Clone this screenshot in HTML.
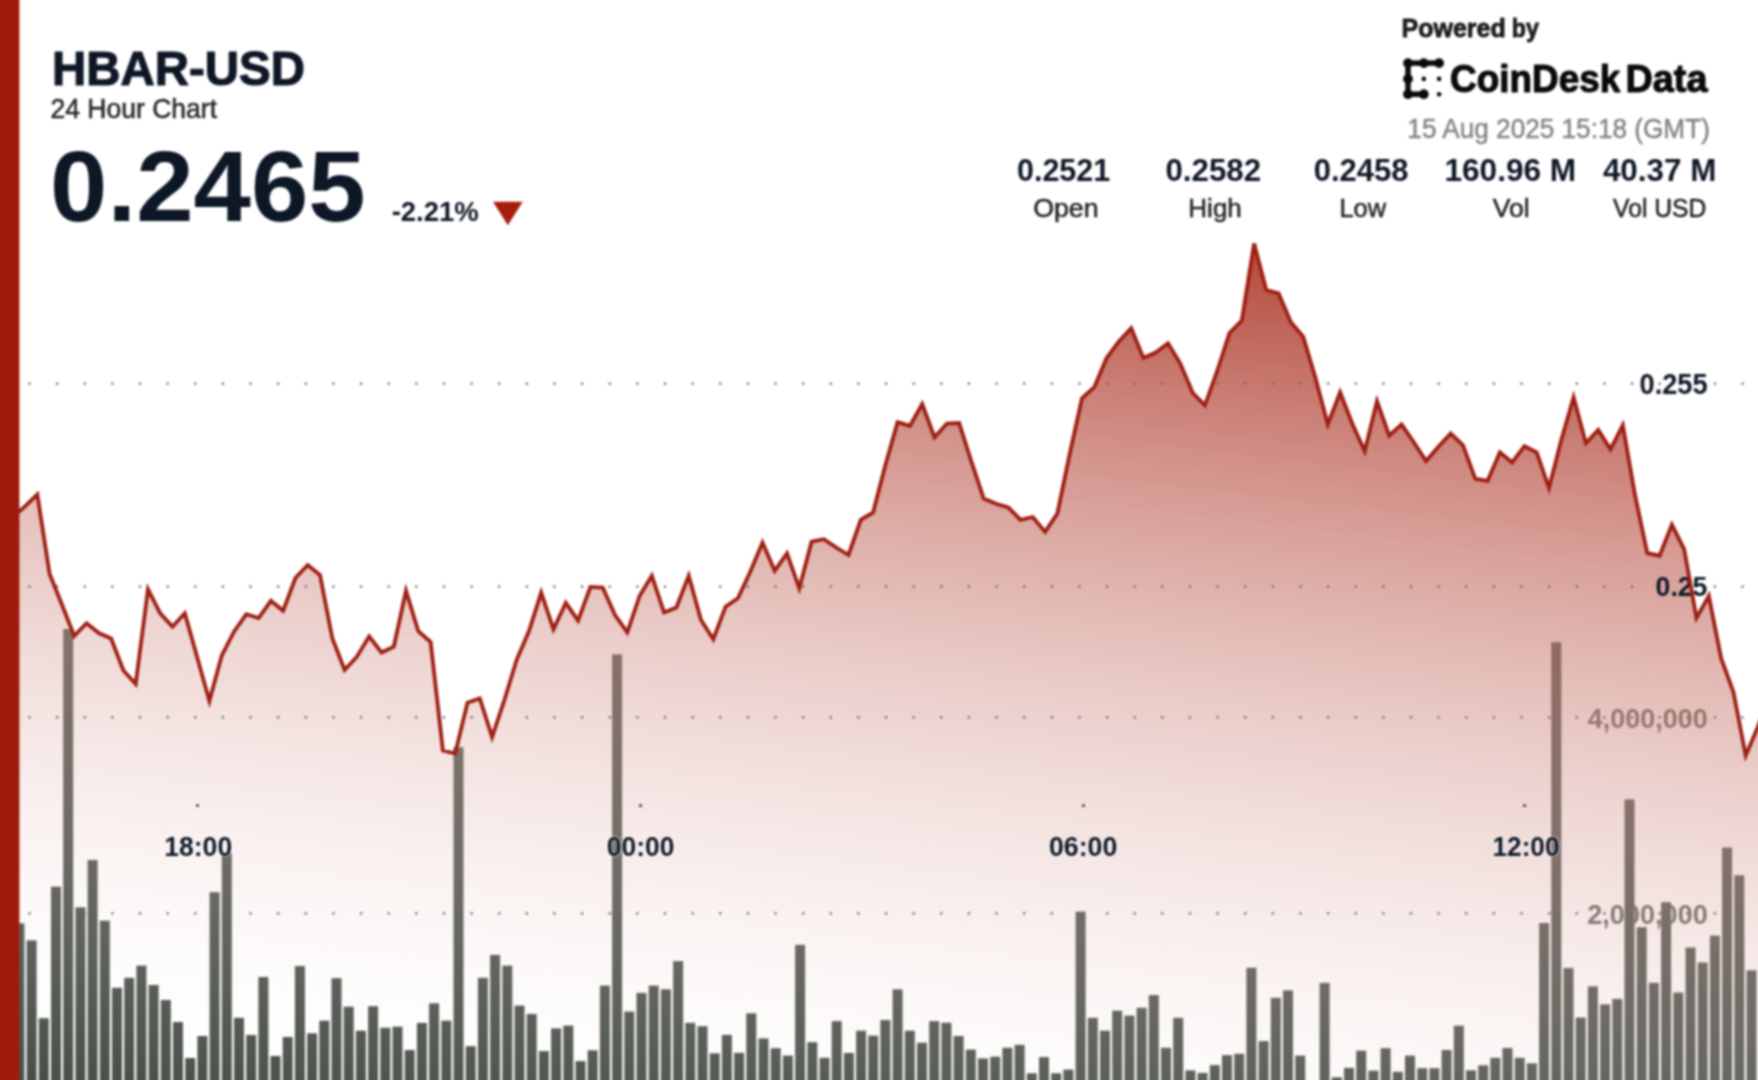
<!DOCTYPE html>
<html><head><meta charset="utf-8"><title>HBAR-USD 24 Hour Chart</title>
<style>
html,body{margin:0;padding:0;}
body{width:1758px;height:1080px;overflow:hidden;background:#fff;position:relative;}
svg{position:absolute;left:-10px;top:-10px;filter:blur(1px);}
text{font-family:"Liberation Sans", sans-serif;}
</style></head>
<body>
<svg width="1778" height="1100" viewBox="-10 -10 1778 1100">
<defs>
<linearGradient id="fg" gradientUnits="userSpaceOnUse" x1="880" y1="90.2" x2="750" y2="1173.5">
<stop offset="0" stop-color="#a31e0d" stop-opacity="1"/>
<stop offset="1" stop-color="#ffffff" stop-opacity="0"/>
</linearGradient>
</defs>
<text x="1587.79" y="727.73" font-size="27.26" font-weight="bold" textLength="120.01" lengthAdjust="spacingAndGlyphs" fill="#5a5f5a" >4,000,000</text>
<text x="1587.26" y="923.73" font-size="27.26" font-weight="bold" textLength="120.55" lengthAdjust="spacingAndGlyphs" fill="#5a5f5a" >2,000,000</text>
<g fill="#464e46">
<rect x="14.4" y="923.3" width="10.0" height="166.7"/>
<rect x="26.6" y="940.4" width="10.0" height="149.6"/>
<rect x="38.8" y="1018.2" width="10.0" height="71.8"/>
<rect x="51.0" y="886.7" width="10.0" height="203.3"/>
<rect x="63.2" y="629.0" width="10.0" height="461.0"/>
<rect x="75.4" y="907.3" width="10.0" height="182.7"/>
<rect x="87.6" y="860.0" width="10.0" height="230.0"/>
<rect x="99.8" y="920.7" width="10.0" height="169.3"/>
<rect x="112.0" y="987.8" width="10.0" height="102.2"/>
<rect x="124.2" y="977.8" width="10.0" height="112.2"/>
<rect x="136.4" y="965.6" width="10.0" height="124.4"/>
<rect x="148.6" y="985.0" width="10.0" height="105.0"/>
<rect x="160.8" y="1000.0" width="10.0" height="90.0"/>
<rect x="173.0" y="1022.0" width="10.0" height="68.0"/>
<rect x="185.2" y="1058.0" width="10.0" height="32.0"/>
<rect x="197.4" y="1036.0" width="10.0" height="54.0"/>
<rect x="209.6" y="892.2" width="10.0" height="197.8"/>
<rect x="221.8" y="853.0" width="10.0" height="237.0"/>
<rect x="234.0" y="1017.8" width="10.0" height="72.2"/>
<rect x="246.2" y="1035.0" width="10.0" height="55.0"/>
<rect x="258.4" y="977.0" width="10.0" height="113.0"/>
<rect x="270.5" y="1056.0" width="10.0" height="34.0"/>
<rect x="282.7" y="1037.0" width="10.0" height="53.0"/>
<rect x="294.9" y="966.0" width="10.0" height="124.0"/>
<rect x="307.1" y="1033.3" width="10.0" height="56.7"/>
<rect x="319.3" y="1020.7" width="10.0" height="69.3"/>
<rect x="331.5" y="978.2" width="10.0" height="111.8"/>
<rect x="343.7" y="1006.7" width="10.0" height="83.3"/>
<rect x="355.9" y="1030.7" width="10.0" height="59.3"/>
<rect x="368.1" y="1006.2" width="10.0" height="83.8"/>
<rect x="380.3" y="1027.8" width="10.0" height="62.2"/>
<rect x="392.5" y="1026.7" width="10.0" height="63.3"/>
<rect x="404.7" y="1050.0" width="10.0" height="40.0"/>
<rect x="416.9" y="1022.9" width="10.0" height="67.1"/>
<rect x="429.1" y="1003.3" width="10.0" height="86.7"/>
<rect x="441.3" y="1020.7" width="10.0" height="69.3"/>
<rect x="453.5" y="747.2" width="10.0" height="342.8"/>
<rect x="465.7" y="1046.2" width="10.0" height="43.8"/>
<rect x="477.9" y="977.8" width="10.0" height="112.2"/>
<rect x="490.1" y="954.9" width="10.0" height="135.1"/>
<rect x="502.3" y="965.6" width="10.0" height="124.4"/>
<rect x="514.5" y="1005.6" width="10.0" height="84.4"/>
<rect x="526.7" y="1014.0" width="10.0" height="76.0"/>
<rect x="538.9" y="1051.1" width="10.0" height="38.9"/>
<rect x="551.1" y="1028.4" width="10.0" height="61.6"/>
<rect x="563.3" y="1025.6" width="10.0" height="64.4"/>
<rect x="575.5" y="1061.1" width="10.0" height="28.9"/>
<rect x="587.7" y="1050.3" width="10.0" height="39.7"/>
<rect x="599.9" y="985.6" width="10.0" height="104.4"/>
<rect x="612.1" y="654.4" width="10.0" height="435.6"/>
<rect x="624.3" y="1011.6" width="10.0" height="78.4"/>
<rect x="636.5" y="992.9" width="10.0" height="97.1"/>
<rect x="648.7" y="985.6" width="10.0" height="104.4"/>
<rect x="660.9" y="989.3" width="10.0" height="100.7"/>
<rect x="673.1" y="961.1" width="10.0" height="128.9"/>
<rect x="685.3" y="1022.9" width="10.0" height="67.1"/>
<rect x="697.5" y="1026.2" width="10.0" height="63.8"/>
<rect x="709.7" y="1053.3" width="10.0" height="36.7"/>
<rect x="721.9" y="1034.9" width="10.0" height="55.1"/>
<rect x="734.1" y="1052.9" width="10.0" height="37.1"/>
<rect x="746.3" y="1013.3" width="10.0" height="76.7"/>
<rect x="758.5" y="1038.4" width="10.0" height="51.6"/>
<rect x="770.7" y="1048.2" width="10.0" height="41.8"/>
<rect x="782.9" y="1055.6" width="10.0" height="34.4"/>
<rect x="795.1" y="944.9" width="10.0" height="145.1"/>
<rect x="807.3" y="1042.2" width="10.0" height="47.8"/>
<rect x="819.5" y="1057.8" width="10.0" height="32.2"/>
<rect x="831.7" y="1021.1" width="10.0" height="68.9"/>
<rect x="843.9" y="1052.9" width="10.0" height="37.1"/>
<rect x="856.1" y="1030.7" width="10.0" height="59.3"/>
<rect x="868.2" y="1035.6" width="10.0" height="54.4"/>
<rect x="880.4" y="1020.0" width="10.0" height="70.0"/>
<rect x="892.6" y="989.3" width="10.0" height="100.7"/>
<rect x="904.8" y="1030.7" width="10.0" height="59.3"/>
<rect x="917.0" y="1042.7" width="10.0" height="47.3"/>
<rect x="929.2" y="1021.1" width="10.0" height="68.9"/>
<rect x="941.4" y="1022.7" width="10.0" height="67.3"/>
<rect x="953.6" y="1036.0" width="10.0" height="54.0"/>
<rect x="965.8" y="1049.6" width="10.0" height="40.4"/>
<rect x="978.0" y="1058.4" width="10.0" height="31.6"/>
<rect x="990.2" y="1056.7" width="10.0" height="33.3"/>
<rect x="1002.4" y="1047.8" width="10.0" height="42.2"/>
<rect x="1014.6" y="1044.9" width="10.0" height="45.1"/>
<rect x="1026.8" y="1073.3" width="10.0" height="16.7"/>
<rect x="1039.0" y="1057.1" width="10.0" height="32.9"/>
<rect x="1051.2" y="1073.3" width="10.0" height="16.7"/>
<rect x="1063.4" y="1069.6" width="10.0" height="20.4"/>
<rect x="1075.6" y="911.6" width="10.0" height="178.4"/>
<rect x="1087.8" y="1017.8" width="10.0" height="72.2"/>
<rect x="1100.0" y="1030.7" width="10.0" height="59.3"/>
<rect x="1112.2" y="1010.7" width="10.0" height="79.3"/>
<rect x="1124.4" y="1015.6" width="10.0" height="74.4"/>
<rect x="1136.6" y="1007.8" width="10.0" height="82.2"/>
<rect x="1148.8" y="995.1" width="10.0" height="94.9"/>
<rect x="1161.0" y="1047.8" width="10.0" height="42.2"/>
<rect x="1173.2" y="1017.8" width="10.0" height="72.2"/>
<rect x="1185.4" y="1070.4" width="10.0" height="19.6"/>
<rect x="1197.6" y="1072.9" width="10.0" height="17.1"/>
<rect x="1209.8" y="1065.1" width="10.0" height="24.9"/>
<rect x="1222.0" y="1055.1" width="10.0" height="34.9"/>
<rect x="1234.2" y="1053.8" width="10.0" height="36.2"/>
<rect x="1246.4" y="967.8" width="10.0" height="122.2"/>
<rect x="1258.6" y="1041.1" width="10.0" height="48.9"/>
<rect x="1270.8" y="997.8" width="10.0" height="92.2"/>
<rect x="1283.0" y="990.4" width="10.0" height="99.6"/>
<rect x="1295.2" y="1055.6" width="10.0" height="34.4"/>
<rect x="1319.6" y="982.9" width="10.0" height="107.1"/>
<rect x="1331.8" y="1077.3" width="10.0" height="12.7"/>
<rect x="1344.0" y="1067.8" width="10.0" height="22.2"/>
<rect x="1356.2" y="1050.7" width="10.0" height="39.3"/>
<rect x="1368.4" y="1070.7" width="10.0" height="19.3"/>
<rect x="1380.6" y="1048.2" width="10.0" height="41.8"/>
<rect x="1392.8" y="1071.8" width="10.0" height="18.2"/>
<rect x="1405.0" y="1055.6" width="10.0" height="34.4"/>
<rect x="1417.2" y="1068.2" width="10.0" height="21.8"/>
<rect x="1429.4" y="1068.2" width="10.0" height="21.8"/>
<rect x="1441.6" y="1050.0" width="10.0" height="40.0"/>
<rect x="1453.8" y="1025.7" width="10.0" height="64.3"/>
<rect x="1466.0" y="1070.3" width="10.0" height="19.7"/>
<rect x="1478.2" y="1065.3" width="10.0" height="24.7"/>
<rect x="1490.3" y="1057.8" width="10.0" height="32.2"/>
<rect x="1502.5" y="1048.0" width="10.0" height="42.0"/>
<rect x="1514.7" y="1057.8" width="10.0" height="32.2"/>
<rect x="1526.9" y="1063.3" width="10.0" height="26.7"/>
<rect x="1539.1" y="923.0" width="10.0" height="167.0"/>
<rect x="1551.3" y="642.2" width="10.0" height="447.8"/>
<rect x="1563.5" y="968.0" width="10.0" height="122.0"/>
<rect x="1575.7" y="1017.5" width="10.0" height="72.5"/>
<rect x="1587.9" y="986.4" width="10.0" height="103.6"/>
<rect x="1600.1" y="1004.4" width="10.0" height="85.6"/>
<rect x="1612.3" y="998.9" width="10.0" height="91.1"/>
<rect x="1624.5" y="799.4" width="10.0" height="290.6"/>
<rect x="1636.7" y="927.2" width="10.0" height="162.8"/>
<rect x="1648.9" y="982.8" width="10.0" height="107.2"/>
<rect x="1661.1" y="902.2" width="10.0" height="187.8"/>
<rect x="1673.3" y="992.5" width="10.0" height="97.5"/>
<rect x="1685.5" y="947.5" width="10.0" height="142.5"/>
<rect x="1697.7" y="962.5" width="10.0" height="127.5"/>
<rect x="1709.9" y="935.6" width="10.0" height="154.4"/>
<rect x="1722.1" y="847.5" width="10.0" height="242.5"/>
<rect x="1734.3" y="875.3" width="10.0" height="214.7"/>
<rect x="1746.5" y="970.3" width="10.0" height="119.7"/>
</g>
<polygon points="12.8,517.0 25.1,506.4 37.3,494.4 49.6,574.0 61.9,604.5 74.2,636.0 86.5,623.3 98.8,633.0 111.1,638.5 123.4,670.5 135.7,684.0 148.0,589.3 160.2,613.3 172.5,626.7 184.8,613.3 197.1,657.0 209.4,701.1 221.7,655.7 234.0,631.7 246.3,614.2 258.6,618.0 270.9,600.8 283.1,610.8 295.4,578.0 307.7,565.0 320.0,575.0 332.3,638.3 344.6,670.0 356.9,656.7 369.2,636.3 381.5,652.5 393.8,646.7 406.0,590.8 418.3,631.3 430.6,642.0 442.9,750.5 455.2,753.5 467.5,702.6 479.8,698.5 492.1,737.2 504.4,700.0 516.7,659.8 528.9,631.3 541.2,592.6 553.5,629.3 565.8,602.8 578.1,620.7 590.4,586.9 602.7,587.5 615.0,615.0 627.3,632.3 639.6,596.0 651.8,575.8 664.1,612.5 676.4,607.5 688.7,575.8 701.0,620.0 713.3,639.2 725.6,606.7 737.9,598.3 750.2,572.0 762.5,542.5 774.7,570.8 787.0,553.3 799.3,588.3 811.6,541.7 823.9,539.2 836.2,547.5 848.5,555.0 860.8,519.8 873.1,512.4 885.4,465.0 897.6,422.2 909.9,425.9 922.2,404.1 934.5,437.4 946.8,423.5 959.1,423.0 971.4,461.7 983.7,498.5 996.0,503.7 1008.3,507.4 1020.5,519.8 1032.8,517.0 1045.1,531.9 1057.4,513.5 1069.7,454.0 1082.0,398.3 1094.3,387.2 1106.6,358.0 1118.9,341.4 1131.2,328.3 1143.4,358.0 1155.7,352.5 1168.0,343.3 1180.3,363.6 1192.6,392.8 1204.9,405.3 1217.2,371.0 1229.5,333.0 1241.8,320.6 1254.1,243.5 1266.3,290.0 1278.6,293.3 1290.9,322.2 1303.2,336.7 1315.5,378.0 1327.8,424.4 1340.1,392.2 1352.4,424.0 1364.7,451.1 1377.0,401.1 1389.2,435.6 1401.5,424.4 1413.8,442.2 1426.1,461.1 1438.4,446.7 1450.7,433.5 1463.0,445.4 1475.3,478.8 1487.6,480.8 1499.9,452.3 1512.1,462.5 1524.4,446.2 1536.7,452.3 1549.0,488.0 1561.3,440.0 1573.6,397.3 1585.9,443.2 1598.2,429.9 1610.5,449.3 1622.8,425.2 1635.0,495.0 1647.3,553.2 1659.6,555.7 1671.9,524.6 1684.2,549.3 1696.5,618.0 1708.8,596.0 1721.1,658.2 1733.4,692.0 1745.7,755.5 1757.9,727.0 1770.2,695.0 1770.2,1095 12.8,1095" fill="url(#fg)"/>
<g stroke="#6b6b6b" stroke-width="2.2" stroke-dasharray="2.2 25.43" fill="none">
<line x1="28.4" y1="383.6" x2="1758" y2="383.6"/>
<line x1="28.4" y1="586.7" x2="1758" y2="586.7"/>
<line x1="28.4" y1="717.3" x2="1758" y2="717.3"/>
<line x1="28.4" y1="913.3" x2="1758" y2="913.3"/>
</g>
<text x="1639.52" y="393.92" font-size="28.67" font-weight="bold" textLength="68.13" lengthAdjust="spacingAndGlyphs" fill="#0e1726" >0.255</text>
<text x="1655.55" y="595.54" font-size="27.12" font-weight="bold" textLength="51.90" lengthAdjust="spacingAndGlyphs" fill="#0e1726" >0.25</text>
<polyline points="12.8,517.0 25.1,506.4 37.3,494.4 49.6,574.0 61.9,604.5 74.2,636.0 86.5,623.3 98.8,633.0 111.1,638.5 123.4,670.5 135.7,684.0 148.0,589.3 160.2,613.3 172.5,626.7 184.8,613.3 197.1,657.0 209.4,701.1 221.7,655.7 234.0,631.7 246.3,614.2 258.6,618.0 270.9,600.8 283.1,610.8 295.4,578.0 307.7,565.0 320.0,575.0 332.3,638.3 344.6,670.0 356.9,656.7 369.2,636.3 381.5,652.5 393.8,646.7 406.0,590.8 418.3,631.3 430.6,642.0 442.9,750.5 455.2,753.5 467.5,702.6 479.8,698.5 492.1,737.2 504.4,700.0 516.7,659.8 528.9,631.3 541.2,592.6 553.5,629.3 565.8,602.8 578.1,620.7 590.4,586.9 602.7,587.5 615.0,615.0 627.3,632.3 639.6,596.0 651.8,575.8 664.1,612.5 676.4,607.5 688.7,575.8 701.0,620.0 713.3,639.2 725.6,606.7 737.9,598.3 750.2,572.0 762.5,542.5 774.7,570.8 787.0,553.3 799.3,588.3 811.6,541.7 823.9,539.2 836.2,547.5 848.5,555.0 860.8,519.8 873.1,512.4 885.4,465.0 897.6,422.2 909.9,425.9 922.2,404.1 934.5,437.4 946.8,423.5 959.1,423.0 971.4,461.7 983.7,498.5 996.0,503.7 1008.3,507.4 1020.5,519.8 1032.8,517.0 1045.1,531.9 1057.4,513.5 1069.7,454.0 1082.0,398.3 1094.3,387.2 1106.6,358.0 1118.9,341.4 1131.2,328.3 1143.4,358.0 1155.7,352.5 1168.0,343.3 1180.3,363.6 1192.6,392.8 1204.9,405.3 1217.2,371.0 1229.5,333.0 1241.8,320.6 1254.1,243.5 1266.3,290.0 1278.6,293.3 1290.9,322.2 1303.2,336.7 1315.5,378.0 1327.8,424.4 1340.1,392.2 1352.4,424.0 1364.7,451.1 1377.0,401.1 1389.2,435.6 1401.5,424.4 1413.8,442.2 1426.1,461.1 1438.4,446.7 1450.7,433.5 1463.0,445.4 1475.3,478.8 1487.6,480.8 1499.9,452.3 1512.1,462.5 1524.4,446.2 1536.7,452.3 1549.0,488.0 1561.3,440.0 1573.6,397.3 1585.9,443.2 1598.2,429.9 1610.5,449.3 1622.8,425.2 1635.0,495.0 1647.3,553.2 1659.6,555.7 1671.9,524.6 1684.2,549.3 1696.5,618.0 1708.8,596.0 1721.1,658.2 1733.4,692.0 1745.7,755.5 1757.9,727.0 1770.2,695.0" fill="none" stroke="#9e1e12" stroke-width="3.8" stroke-linejoin="miter" stroke-miterlimit="4"/>
<g fill="#333">
<rect x="196" y="804.5" width="3" height="2.2"/>
<rect x="639" y="804.5" width="3" height="2.2"/>
<rect x="1082" y="804.5" width="3" height="2.2"/>
<rect x="1523" y="804.5" width="3" height="2.2"/>
</g>
<text x="164.23" y="856.43" font-size="27.82" font-weight="bold" textLength="67.96" lengthAdjust="spacingAndGlyphs" fill="#0e1726" stroke="#ffffff" stroke-opacity="0.55" stroke-width="2" paint-order="stroke">18:00</text>
<text x="606.75" y="856.43" font-size="27.82" font-weight="bold" textLength="67.63" lengthAdjust="spacingAndGlyphs" fill="#0e1726" stroke="#ffffff" stroke-opacity="0.55" stroke-width="2" paint-order="stroke">00:00</text>
<text x="1048.94" y="856.43" font-size="27.82" font-weight="bold" textLength="68.35" lengthAdjust="spacingAndGlyphs" fill="#0e1726" stroke="#ffffff" stroke-opacity="0.55" stroke-width="2" paint-order="stroke">06:00</text>
<text x="1492.45" y="856.43" font-size="27.82" font-weight="bold" textLength="67.13" lengthAdjust="spacingAndGlyphs" fill="#0e1726" stroke="#ffffff" stroke-opacity="0.55" stroke-width="2" paint-order="stroke">12:00</text>
<rect x="-10" y="-10" width="29.4" height="1100" fill="#9e1a0a"/>
<text x="52.03" y="84.80" font-size="48.55" font-weight="bold" textLength="252.96" lengthAdjust="spacingAndGlyphs" fill="#0e1726" stroke="#0e1726" stroke-width="1.2" stroke-linejoin="round">HBAR-USD</text>
<text x="50.42" y="117.75" font-size="27.04" font-weight="normal" textLength="166.63" lengthAdjust="spacingAndGlyphs" fill="#262626" stroke="#262626" stroke-width="0.5">24 Hour Chart</text>
<text x="50.12" y="220.63" font-size="99.29" font-weight="bold" textLength="315.55" lengthAdjust="spacingAndGlyphs" fill="#0e1726" >0.2465</text>
<text x="391.63" y="220.78" font-size="28.18" font-weight="bold" textLength="87.10" lengthAdjust="spacingAndGlyphs" fill="#0e1726" >-2.21%</text>
<text x="1401.53" y="37.40" font-size="25.58" font-weight="bold" textLength="104.22" lengthAdjust="spacingAndGlyphs" fill="#1b1b1b" stroke="#1b1b1b" stroke-width="0.8" stroke-linejoin="round">Powered</text>
<text x="1511.87" y="37.40" font-size="25.58" font-weight="bold" textLength="27.05" lengthAdjust="spacingAndGlyphs" fill="#1b1b1b" stroke="#1b1b1b" stroke-width="0.8" stroke-linejoin="round">by</text>
<text x="1450.04" y="92.05" font-size="38.52" font-weight="bold" textLength="170.28" lengthAdjust="spacingAndGlyphs" fill="#0a0a0a" stroke="#0a0a0a" stroke-width="1.1" stroke-linejoin="round">CoinDesk</text>
<text x="1625.52" y="92.05" font-size="38.52" font-weight="bold" textLength="81.89" lengthAdjust="spacingAndGlyphs" fill="#0a0a0a" stroke="#0a0a0a" stroke-width="1.1" stroke-linejoin="round">Data</text>
<text x="1407.37" y="137.95" font-size="27.04" font-weight="normal" textLength="302.50" lengthAdjust="spacingAndGlyphs" fill="#858585" stroke="#858585" stroke-width="0.5">15 Aug 2025 15:18 (GMT)</text>
<text x="1017.00" y="180.80" font-size="30.93" font-weight="bold" textLength="93.15" lengthAdjust="spacingAndGlyphs" fill="#0e1726" >0.2521</text>
<text x="1165.46" y="180.80" font-size="30.93" font-weight="bold" textLength="95.59" lengthAdjust="spacingAndGlyphs" fill="#0e1726" >0.2582</text>
<text x="1313.77" y="180.80" font-size="30.93" font-weight="bold" textLength="94.78" lengthAdjust="spacingAndGlyphs" fill="#0e1726" >0.2458</text>
<text x="1444.41" y="180.80" font-size="30.93" font-weight="bold" textLength="131.81" lengthAdjust="spacingAndGlyphs" fill="#0e1726" >160.96 M</text>
<text x="1602.92" y="180.80" font-size="30.93" font-weight="bold" textLength="113.48" lengthAdjust="spacingAndGlyphs" fill="#0e1726" >40.37 M</text>
<text x="1033.19" y="217.35" font-size="25.73" font-weight="normal" textLength="65.30" lengthAdjust="spacingAndGlyphs" fill="#222222" stroke="#222222" stroke-width="0.5">Open</text>
<text x="1188.32" y="217.35" font-size="25.73" font-weight="normal" textLength="53.53" lengthAdjust="spacingAndGlyphs" fill="#222222" stroke="#222222" stroke-width="0.5">High</text>
<text x="1339.47" y="217.35" font-size="25.73" font-weight="normal" textLength="46.62" lengthAdjust="spacingAndGlyphs" fill="#222222" stroke="#222222" stroke-width="0.5">Low</text>
<text x="1492.84" y="217.35" font-size="25.73" font-weight="normal" textLength="36.92" lengthAdjust="spacingAndGlyphs" fill="#222222" stroke="#222222" stroke-width="0.5">Vol</text>
<text x="1613.04" y="217.35" font-size="25.73" font-weight="normal" textLength="93.37" lengthAdjust="spacingAndGlyphs" fill="#222222" stroke="#222222" stroke-width="0.5">Vol USD</text>
<polygon points="493,201.7 522.7,201.7 507.85,225.3" fill="#a51e0c"/>
<g transform="translate(1398,54)" fill="#0a0a0a" stroke="#0a0a0a">
<line x1="10" y1="9.1" x2="41.1" y2="9.1" stroke-width="5.5"/>
<line x1="10" y1="9.1" x2="10" y2="40.2" stroke-width="5.5"/>
<line x1="10" y1="40.2" x2="25.8" y2="40.2" stroke-width="5.5"/>
<circle cx="10" cy="9.1" r="4.9" stroke="none"/>
<circle cx="25.8" cy="9.1" r="4.9" stroke="none"/>
<circle cx="41.1" cy="9.1" r="4.9" stroke="none"/>
<circle cx="10" cy="24.9" r="4.9" stroke="none"/>
<circle cx="10" cy="40.2" r="4.9" stroke="none"/>
<circle cx="25.8" cy="40.2" r="4.9" stroke="none"/>
<circle cx="25.8" cy="24.9" r="2.3" stroke="none"/>
<circle cx="41.1" cy="24.9" r="2.3" stroke="none"/>
<circle cx="41.1" cy="40.2" r="2.3" stroke="none"/>
</g>
</svg>
</body></html>
